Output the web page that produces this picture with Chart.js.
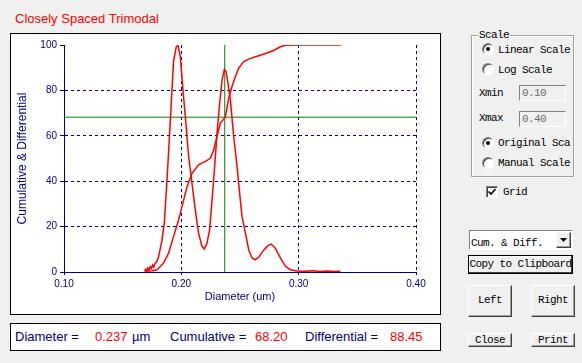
<!DOCTYPE html>
<html>
<head>
<meta charset="utf-8">
<script src="https://cdn.jsdelivr.net/npm/chart.js@4"></script>
<style>
body { margin:0; width:582px; height:363px; background:#f0f0f0; position:relative; overflow:hidden; font-family:"Liberation Sans", Arial, sans-serif; }
.abs { position:absolute; white-space:nowrap; }
.title { left:15px; top:11px; font-size:13px; line-height:15px; color:#ff0000; }
.frame { left:10px; top:33px; width:431px; height:282px; box-sizing:border-box; border:1px solid #000; background:#fff; }
#psd { position:absolute; left:11px; top:34px; }
.info { left:10px; top:323px; width:431px; height:28px; box-sizing:border-box; border:1px solid #000; background:#fff; }
.it { font-size:13px; line-height:15px; top:329px; }
.blue { color:#000080; }
.red { color:#ff0000; }
.ui { font-family:"Liberation Mono", monospace; font-size:11px; line-height:13px; letter-spacing:-0.6px; color:#000; }
.group { left:471px; top:35px; width:103px; height:142px; box-sizing:border-box; border:1px solid #a0a0a0; box-shadow:1px 1px 0 #fff, inset 1px 1px 0 #fff; }
.legend { left:478px; top:29px; background:#f0f0f0; padding:0 1px; }
.radio { width:12px; height:12px; box-sizing:border-box; border-radius:50%; background:#fff; border:1px solid; border-color:#808080 #fff #fff #808080; box-shadow:inset 1px 1px 0 #404040; }
.radio.on::after { content:""; position:absolute; left:3px; top:3px; width:4px; height:4px; border-radius:50%; background:#000; }
.edit { width:47px; height:16px; box-sizing:border-box; border:1px solid; border-color:#808080 #fff #fff #808080; background:#f0f0f0; color:#6d6d6d; padding-left:2px; }
.check { left:486px; top:186px; width:12px; height:12px; box-sizing:border-box; border:1px solid; border-color:#808080 #fff #fff #808080; background:#fff; box-shadow:inset 1px 1px 0 #404040; }
.btn { box-sizing:border-box; border:1px solid; border-color:#fff #404040 #404040 #fff; box-shadow:inset -1px -1px 0 #a0a0a0; background:#f0f0f0; text-align:center; overflow:hidden; }
</style>
</head>
<body>
<div class="abs title">Closely Spaced Trimodal</div>
<div class="abs frame"></div>
<canvas id="psd" width="429" height="280"></canvas>

<div class="abs info"></div>
<span class="abs it blue" style="left:15px">Diameter =</span>
<span class="abs it red" id="dVal" style="left:95px"></span>
<span class="abs it blue" style="left:132px">µm</span>
<span class="abs it blue" style="left:170px">Cumulative =</span>
<span class="abs it red" id="cVal" style="left:255px"></span>
<span class="abs it blue" style="left:305px">Differential =</span>
<span class="abs it red" id="fVal" style="left:390px"></span>

<div class="abs group"></div>
<div class="abs ui legend">Scale</div>
<div class="abs radio on" style="left:482px;top:43px"></div>
<div class="abs ui" style="left:498px;top:44px">Linear Scale</div>
<div class="abs radio" style="left:482px;top:63px"></div>
<div class="abs ui" style="left:498px;top:64px">Log Scale</div>
<div class="abs ui" style="left:479px;top:87px">Xmin</div>
<div class="abs ui edit" style="left:519px;top:85px;line-height:14px">0.10</div>
<div class="abs ui" style="left:479px;top:112px">Xmax</div>
<div class="abs ui edit" style="left:519px;top:111px;line-height:14px">0.40</div>
<div class="abs radio on" style="left:482px;top:137px"></div>
<div class="abs ui" style="left:498px;top:137px;width:73px;overflow:hidden">Original Scale</div>
<div class="abs radio" style="left:482px;top:157px"></div>
<div class="abs ui" style="left:498px;top:157px">Manual Scale</div>
<div class="abs check"><svg width="10" height="10" style="position:absolute;left:0;top:0"><path d="M1.5 4.5 L4 7 L8.5 2" stroke="#000" stroke-width="1.6" fill="none"/></svg></div>
<div class="abs ui" style="left:503px;top:186px">Grid</div>

<div class="abs" style="left:469px;top:230px;width:104px;height:20px;box-sizing:border-box;border:1px solid;border-color:#808080 #fff #fff #808080;background:#fff"></div>
<div class="abs ui" style="left:471px;top:237px">Cum. &amp; Diff.</div>
<div class="abs btn" style="left:556px;top:232px;width:15px;height:16px"><svg width="13" height="14" style="position:absolute;left:0;top:0"><path d="M3 5 L10 5 L6.5 9 Z" fill="#000"/></svg></div>
<div class="abs btn ui" style="left:468px;top:255px;width:105px;height:19px;border-color:#000;box-shadow:inset -1px -1px 0 #404040, inset 1px 1px 0 #fff;line-height:17px">Copy to Clipboard</div>
<div class="abs btn ui" style="left:468px;top:285px;width:44px;height:32px;line-height:29px">Left</div>
<div class="abs btn ui" style="left:531px;top:285px;width:44px;height:32px;line-height:29px">Right</div>
<div class="abs btn ui" style="left:468px;top:333px;width:44px;height:14px;line-height:12px">Close</div>
<div class="abs btn ui" style="left:531px;top:333px;width:44px;height:14px;line-height:12px">Print</div>

<script>
// differential curve (percent of max)
const diffX = [0.1685, 0.1695, 0.1705, 0.1715, 0.1725, 0.1735, 0.1745, 0.1755, 0.1765, 0.1775,
    0.1790, 0.1807, 0.1835, 0.1855, 0.1878, 0.1900, 0.1920, 0.1934, 0.1957, 0.1972,
    0.1991, 0.2014, 0.2034, 0.2062, 0.2091, 0.2119, 0.2147, 0.2176, 0.2196, 0.2219,
    0.2241, 0.2262, 0.2284, 0.2304, 0.2324, 0.2347, 0.2367, 0.2381, 0.2398, 0.2418,
    0.2446, 0.2475, 0.2494, 0.2517, 0.2546, 0.2574, 0.2603, 0.2630, 0.2660, 0.2700,
    0.2735, 0.2765, 0.2801, 0.2844, 0.2887, 0.2929, 0.2986, 0.3050, 0.3120, 0.3180,
    0.3240, 0.3300, 0.3355];
const diffY = [0.3, 1.2, 0.6, 1.8, 1.0, 2.4, 1.6, 3.0, 2.2, 3.8,
    4.5, 6.9, 14.0, 21.5, 40.6, 61.0, 80.0, 93.0, 99.3, 99.8,
    95.0, 80.0, 68.5, 51.0, 39.0, 27.4, 17.0, 11.3, 10.2, 12.8,
    18.6, 31.8, 46.5, 61.0, 72.9, 84.6, 89.2, 88.3, 83.0, 75.8,
    59.7, 46.5, 36.2, 24.5, 17.2, 9.8, 6.2, 5.4, 6.5, 9.5,
    11.5, 12.3, 10.5, 6.2, 2.5, 1.0, 0.4, 0.3, 0.5, 0.2,
    0.4, 0.2, 0.3];

// cumulative curve (%)
const cumX = [0.1693, 0.1750, 0.1793, 0.1850, 0.1892, 0.1934, 0.1977, 0.2006, 0.2049, 0.2091,
    0.2147, 0.2205, 0.2247, 0.2276, 0.2304, 0.2332, 0.2375, 0.2403, 0.2432, 0.2460,
    0.2488, 0.2531, 0.2588, 0.2659, 0.2731, 0.2795, 0.2844, 0.2887, 0.3000, 0.3100,
    0.3200, 0.3360];
const cumY = [0.3, 0.6, 1.0, 4.0, 8.4, 15.7, 23.0, 28.9, 37.7, 43.5,
    47.2, 48.7, 50.1, 53.8, 59.7, 65.6, 68.2, 76.5, 81.7, 86.0,
    89.7, 92.7, 94.1, 95.3, 96.5, 97.8, 99.2, 99.9, 100, 100,
    100, 100];

// cursor readout
const cursorDiameter = 0.237;
const cursorCum = 68.20;
const cursorDiff = 88.45;

// axes
const xRange = [0.10, 0.40];
const yRange = [0, 100];

document.getElementById('dVal').textContent = cursorDiameter.toFixed(3);
document.getElementById('cVal').textContent = cursorCum.toFixed(2);
document.getElementById('fVal').textContent = cursorDiff.toFixed(2);

const navy = '#000080';
const tickFont = { family: 'Liberation Sans', size: 10 };

const psdChart = new Chart(document.getElementById('psd'), {
    type: 'line',
    data: {
        datasets: [
            { data: diffX.map((x, i) => ({ x: x, y: diffY[i] })), borderColor: '#ff0000', borderWidth: 1.5, pointRadius: 0 },
            { data: cumX.map((x, i) => ({ x: x, y: cumY[i] })), borderColor: '#ff0000', borderWidth: 1.5, pointRadius: 0 },
            { data: [{ x: cursorDiameter, y: yRange[0] }, { x: cursorDiameter, y: yRange[1] }], borderColor: '#008000', borderWidth: 1, pointRadius: 0 },
            { data: [{ x: xRange[0], y: cursorCum }, { x: xRange[1], y: cursorCum }], borderColor: '#008000', borderWidth: 1, pointRadius: 0 }
        ]
    },
    options: {
        responsive: false,
        animation: false,
        devicePixelRatio: 1,
        layout: { padding: { top: 11, right: 24, left: 0, bottom: 0 } },
        plugins: { legend: { display: false }, tooltip: { enabled: false } },
        scales: {
            x: {
                type: 'linear',
                min: xRange[0],
                max: xRange[1],
                ticks: { stepSize: 0.1, color: navy, font: tickFont, padding: 3, maxRotation: 0, autoSkip: false,
                    callback: v => v.toFixed(2) },
                grid: { color: c => c.tick && c.tick.value > 0.15 ? navy : 'rgba(0,0,0,0)', tickColor: navy, tickLength: 3 },
                border: { color: navy, dash: [3, 3] },
                title: { display: true, text: 'Diameter (um)', color: navy, font: { family: 'Liberation Sans', size: 11 }, padding: { top: 0, bottom: 10 } },
                afterFit: s => { s.height = 42; }
            },
            y: {
                min: yRange[0],
                max: yRange[1],
                ticks: { stepSize: 20, color: navy, font: tickFont, padding: 3 },
                grid: { color: c => c.tick && c.tick.value > 0 && c.tick.value < 100 ? navy : 'rgba(0,0,0,0)', tickColor: navy, tickLength: 4 },
                border: { color: navy, dash: [3, 3] },
                title: { display: true, text: 'Cumulative & Differential', color: navy, font: { family: 'Liberation Sans', size: 12 }, padding: { top: 4, bottom: 0 } },
                afterFit: s => { s.width = 53; }
            }
        }
    }
});
</script>
</body>
</html>
